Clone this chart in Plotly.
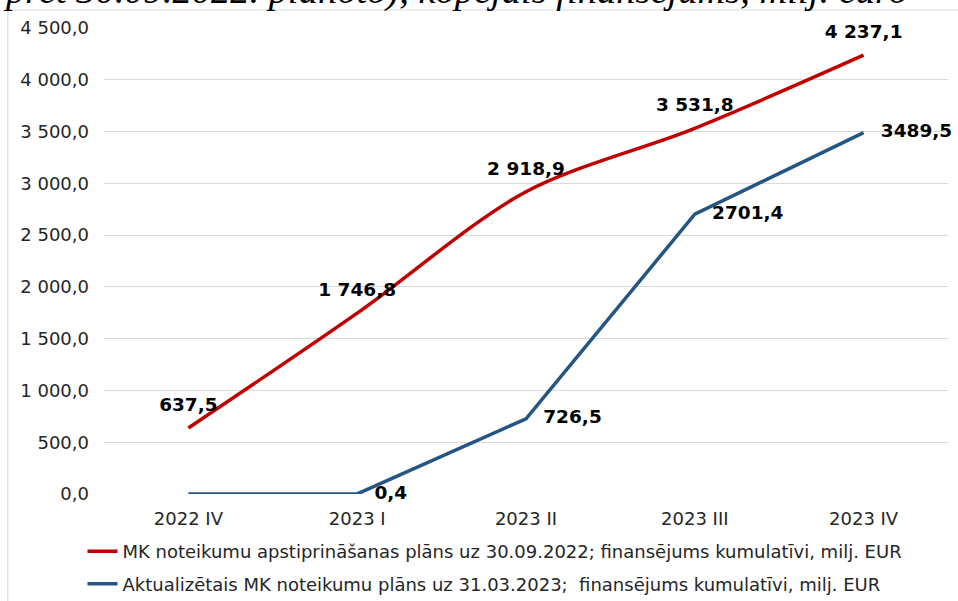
import plotly.graph_objects as go

quarters = ["2022 IV", "2023 I", "2023 II", "2023 III", "2023 IV"]
plan_2022 = [637.5, 1746.8, 2918.9, 3531.8, 4237.1]
plan_2022_labels = ["637,5", "1 746,8", "2 918,9", "3 531,8", "4 237,1"]
plan_2023 = [0.0, 0.4, 726.5, 2701.4, 3489.5]
plan_2023_labels = ["", "0,4", "726,5", "2701,4", "3489,5"]
y_ticks = [0, 500, 1000, 1500, 2000, 2500, 3000, 3500, 4000, 4500]
y_tick_text = ["0,0", "500,0", "1 000,0", "1 500,0", "2 000,0", "2 500,0",
               "3 000,0", "3 500,0", "4 000,0", "4 500,0"]

name_2022 = "MK noteikumu apstiprināšanas plāns uz 30.09.2022; finansējums kumulatīvi, milj. EUR"
name_2023 = "Aktualizētais MK noteikumu plāns uz 31.03.2023;  finansējums kumulatīvi, milj. EUR"

FONT = "DejaVu Sans, Verdana, sans-serif"
RED = "#c00000"
BLUE = "#255582"
TEXT = "#262626"

fig = go.Figure()
fig.add_trace(
    go.Scatter(
        x=quarters, y=plan_2022, name=name_2022, legendgroup="a",
        mode="lines+markers+text",
        line=dict(color=RED, width=3.5, shape="spline", smoothing=0.9),
        marker=dict(size=18, color="rgba(0,0,0,0)"),
        text=plan_2022_labels, textposition="top center",
        textfont=dict(family=FONT, size=18.5, color="#000000", weight="bold"),
        cliponaxis=False,
    )
)
fig.add_trace(
    go.Scatter(
        x=quarters, y=plan_2023, name=name_2023, legendgroup="b",
        mode="lines+markers+text",
        line=dict(color=BLUE, width=3.5),
        marker=dict(size=26, color="rgba(0,0,0,0)"),
        text=plan_2023_labels, textposition="middle right",
        textfont=dict(family=FONT, size=18.5, color="#000000", weight="bold"),
        cliponaxis=False,
    )
)

# chart frame (top and left edges visible) and the cut-off heading above it
frame = dict(color="#d9d9d9", width=1)
fig.add_shape(type="line", xref="paper", yref="paper", x0=-0.114, x1=1.02, y0=1.0386, y1=1.0386, line=frame)
fig.add_shape(type="line", xref="paper", yref="paper", x0=-0.114, x1=-0.114, y0=1.0386, y1=-0.3, line=frame)
fig.add_annotation(
    xref="paper", yref="paper", x=-0.122, y=1.031, xanchor="left", yanchor="bottom",
    text="pret 30.09.2022. plānoto), kopējais finansējums, milj. euro",
    showarrow=False,
    font=dict(family="Liberation Serif, Times New Roman, serif", size=38.5, color="#000000", style="italic"),
)

fig.update_layout(
    width=958, height=601,
    margin=dict(l=104, r=10, t=28, b=107, autoexpand=False),
    paper_bgcolor="white", plot_bgcolor="white",
    showlegend=True,
    legend=dict(
        orientation="v", x=-0.0255, xanchor="left",
        yref="container", y=0.113, yanchor="top",
        font=dict(family=FONT, size=18, color=TEXT),
        tracegroupgap=6, itemwidth=30,
    ),
    font=dict(family=FONT, size=18, color=TEXT),
)
fig.update_xaxes(
    range=[-0.5, 4.5],
    showgrid=False, showline=False, zeroline=False,
    tickfont=dict(family=FONT, size=18, color=TEXT),
    ticklabelstandoff=12,
)
fig.update_yaxes(
    range=[0, 4500], tickvals=y_ticks, ticktext=y_tick_text,
    showgrid=True, gridcolor="#d9d9d9", gridwidth=1,
    zeroline=False, showline=False,
    tickfont=dict(family=FONT, size=18, color=TEXT),
    ticklabelstandoff=14,
)

fig.write_html(
    "out.html",
    config={"displayModeBar": False},
    post_script="document.body.style.margin = '0';",
)
